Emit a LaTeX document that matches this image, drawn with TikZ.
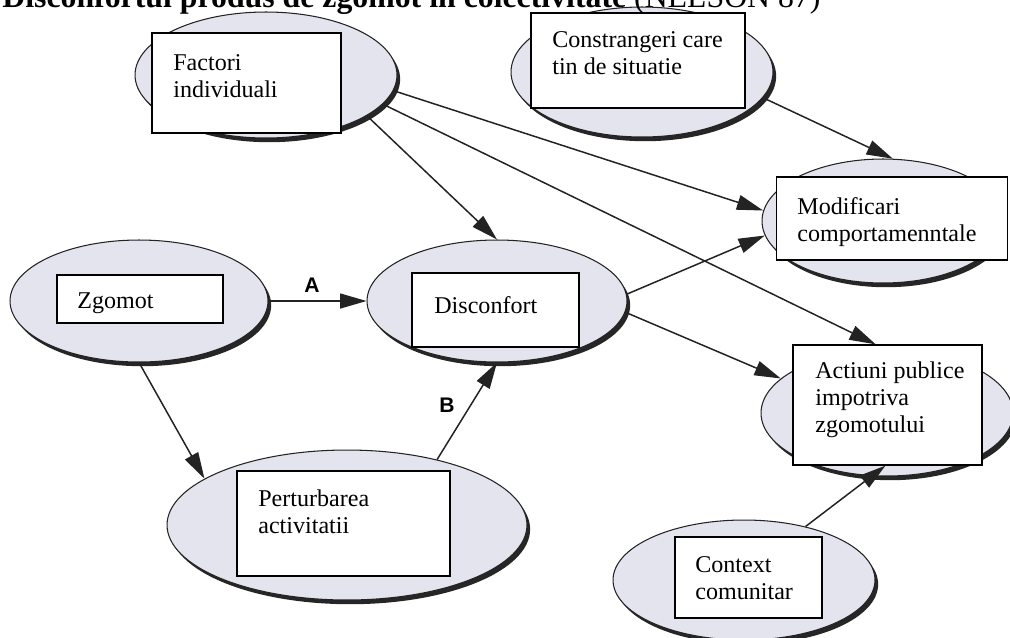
\documentclass[tikz,border=0pt]{standalone}
\usepackage{fontspec}
\setmainfont{Liberation Serif}
\newfontfamily\labelfont{Liberation Sans}
\usetikzlibrary{shadows,arrows.meta,shapes.geometric}
\definecolor{ellfill}{RGB}{228,228,238}
\definecolor{edge}{RGB}{35,35,35}
\newcommand\boxlines[1]{\begin{tabular}[t]{@{}l@{}}#1\end{tabular}}
\begin{document}
\begin{tikzpicture}[x=0.02cm,y=-0.02cm,
  ell/.style={ellipse, draw=edge, line width=0.6pt, fill=ellfill, inner sep=0pt,
     general shadow={fill=black!85, shadow xshift=1.8pt, shadow yshift=-2.4pt}},
  rectbox/.style={rectangle, draw=black, line width=0.75pt, fill=white, inner sep=0pt},
  txt/.style={anchor=base west, inner sep=0pt, font=\fontsize{13.7}{15.5}\selectfont},
  arr/.style={draw=edge, line width=0.85pt, -{Triangle[length=15pt,width=8.5pt]}},
  lab/.style={font=\labelfont\bfseries\fontsize{12}{14}\selectfont, inner sep=0pt}
]
\useasboundingbox (0,0) rectangle (1010,637);

% ellipses
\node[ell, minimum width=5.24cm, minimum height=2.52cm] (fac) at (266,75) {};
\node[ell, minimum width=5.24cm, minimum height=2.60cm] (con) at (642,72) {};
\node[ell, minimum width=4.84cm, minimum height=2.48cm] (mod) at (883,221) {};
\node[ell, minimum width=5.16cm, minimum height=2.44cm] (zg) at (139,301) {};
\node[ell, minimum width=5.20cm, minimum height=2.44cm] (dis) at (497,301) {};
\node[ell, minimum width=5.04cm, minimum height=2.52cm] (act) at (887,413) {};
\node[ell, minimum width=7.20cm, minimum height=3.00cm] (per) at (347,525) {};
\node[ell, minimum width=5.24cm, minimum height=2.40cm] (ctx) at (744,580) {};

% rectangles
\node[rectbox, minimum width=3.78cm, minimum height=2.00cm] (facr) at (246.5,83) {};
\node[rectbox, minimum width=4.28cm, minimum height=1.90cm] (conr) at (638,60.5) {};
\node[rectbox, minimum width=4.62cm, minimum height=1.66cm] (modr) at (892,218.5) {};
\node[rectbox, minimum width=3.32cm, minimum height=0.96cm] (zgr) at (140,299) {};
\node[rectbox, minimum width=3.34cm, minimum height=1.48cm] (disr) at (495.5,310) {};
\node[rectbox, minimum width=3.78cm, minimum height=2.40cm] (actr) at (887.5,405) {};
\node[rectbox, minimum width=4.26cm, minimum height=2.10cm] (perr) at (343.5,523.5) {};
\node[rectbox, minimum width=2.94cm, minimum height=1.62cm] (ctxr) at (748.5,577.5) {};

% texts
\node[txt] (tfac) at (173,70) {\boxlines{Factori\\individuali}};
\node[txt] (tcon) at (552,47) {\boxlines{Constrangeri care\\tin de situatie}};
\node[txt] (tmod) at (797,214) {\boxlines{Modificari\\comportamenntale}};
\node[txt] (tzg) at (77,308) {Zgomot};
\node[txt] (tdis) at (434,313) {Disconfort};
\node[txt] (tact) at (815,378) {\boxlines{Actiuni publice\\impotriva\\zgomotului}};
\node[txt] (tper) at (258,506) {\boxlines{Perturbarea\\activitatii}};
\node[txt] (tctx) at (695,572) {\boxlines{Context\\comunitar}};

% connectors
\draw[arr] (fac.-7) -- (mod.175);
\draw[arr] (fac.-14.5) -- (actr.101);
\draw[arr] (fac.-22) -- (dis.north);
\draw[arr] (con.-12) -- (mod.81);
\draw[arr] (zg.east) -- (dis.west);
\draw[arr] (zg.south) -- (per.162);
\draw[arr] (per.36) -- (dis.south);
\draw[arr] (dis.3) -- (mod.187.5);
\draw[arr] (dis.-5) -- (act.162);
\draw[arr] (ctx.41) -- (actr.-92);

% labels
\node[lab] (la) at (312,285) {A};
\node[lab] (lb) at (447,405) {B};

% title (partly cut off at the top, as in the reference)
\node[anchor=base west, inner sep=0pt, font=\fontsize{18.1}{22}\selectfont\bfseries] (title) at (2,7)
  {Disconfortul produs de zgomot in colectivitate {\mdseries (NELSON 87)}};
\end{tikzpicture}
\end{document}
